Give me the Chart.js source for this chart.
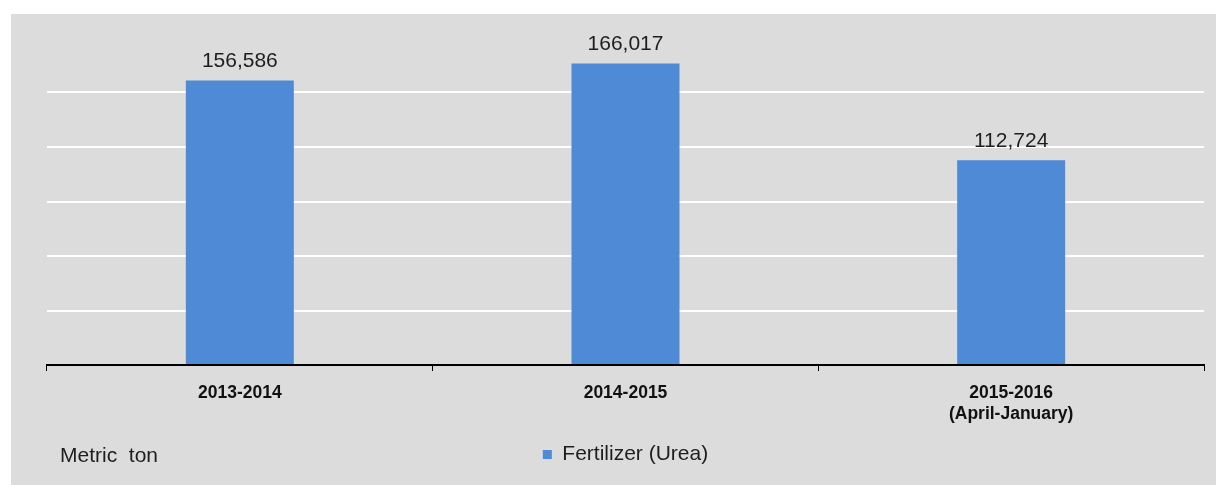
<!DOCTYPE html>
<html>
<head>
<meta charset="utf-8">
<script src="https://cdn.jsdelivr.net/npm/chart.js@4"></script>
<style>
  body { margin: 0; background: #fff; }
  #panel { position: absolute; left: 11px; top: 14px; width: 1205px; height: 471px; background: #dcdcdc; }
</style>
</head>
<body>
<div id="panel"><canvas id="chart"></canvas></div>
<script>
// categories and values
let categories = ['2013-2014', '2014-2015', ['2015-2016', '(April-January)']]
let ureaValues = [156586, 166017, 112724]
let seriesName = 'Fertilizer (Urea)'
let unitLabel = 'Metric  ton'

let fontFamily = '"Liberation Sans", Arial, sans-serif'
let barColor = '#4f8ad6'

// writes the value above each bar
let valueLabels = {
    id: 'valueLabels',
    afterDatasetsDraw(chart) {
        let ctx = chart.ctx
        let meta = chart.getDatasetMeta(0)
        ctx.save()
        ctx.font = '21px ' + fontFamily
        ctx.fillStyle = '#1e1e1e'
        ctx.textAlign = 'center'
        ctx.textBaseline = 'bottom'
        meta.data.forEach(function(bar, i) {
            ctx.fillText(ureaValues[i].toLocaleString('en-US'), bar.x, bar.y - 9)
        })
        ctx.restore()
    }
}

// unit text in the bottom left corner
let unitText = {
    id: 'unitText',
    afterDraw(chart) {
        let ctx = chart.ctx
        ctx.save()
        ctx.font = '21px ' + fontFamily
        ctx.fillStyle = '#1e1e1e'
        ctx.textBaseline = 'middle'
        ctx.fillText(unitLabel, 49, 442)
        ctx.restore()
    }
}

new Chart(document.getElementById('chart'), {
    type: 'bar',
    data: {
        labels: categories,
        datasets: [{
            label: seriesName,
            data: ureaValues,
            backgroundColor: barColor,
            categoryPercentage: 0.28,
            barPercentage: 1
        }]
    },
    options: {
        responsive: true,
        maintainAspectRatio: false,
        animation: false,
        layout: { padding: { left: 36, right: 12, top: 24, bottom: 10 } },
        plugins: {
            tooltip: { enabled: false },
            legend: {
                position: 'bottom',
                labels: {
                    boxWidth: 9,
                    boxHeight: 9,
                    padding: 7,
                    color: '#1e1e1e',
                    font: { size: 21, family: fontFamily }
                }
            }
        },
        scales: {
            x: {
                grid: { drawOnChartArea: false, color: '#000', tickLength: 6, offset: true },
                border: { color: '#000', width: 2 },
                ticks: {
                    color: '#111',
                    padding: 12,
                    maxRotation: 0,
                    font: { size: 17.5, weight: 'bold', family: fontFamily }
                }
            },
            y: {
                min: 0,
                max: 180000,
                ticks: { display: false, stepSize: 30000 },
                border: { display: false },
                grid: {
                    drawTicks: false,
                    lineWidth: 2,
                    color: function(c) {
                        return (c.tick.value === 0 || c.tick.value === 180000) ? 'rgba(0,0,0,0)' : '#ffffff'
                    }
                }
            }
        }
    },
    plugins: [valueLabels, unitText]
})
</script>
</body>
</html>
